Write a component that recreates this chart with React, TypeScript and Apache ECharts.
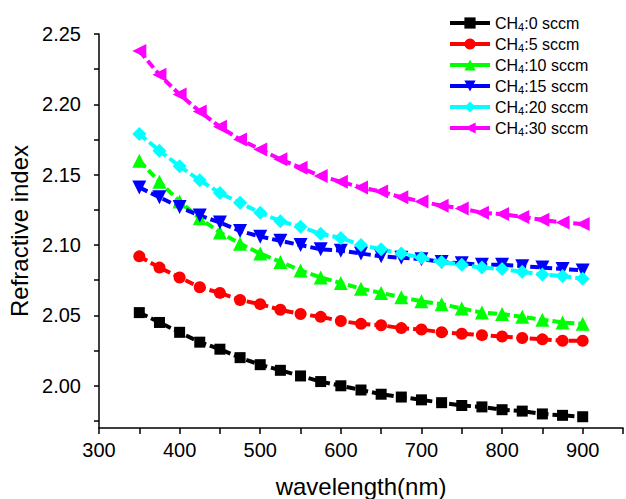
import React, { useEffect, useRef } from "react";
import * as echarts from "echarts";

const wavelengths = [350, 375, 400, 425, 450, 475, 500, 525, 550, 575, 600, 625, 650, 675, 700, 725, 750, 775, 800, 825, 850, 875, 900];

const n0 = [2.052, 2.045, 2.038, 2.031, 2.026, 2.020, 2.015, 2.011, 2.007, 2.003, 2.000, 1.997, 1.994, 1.992, 1.990, 1.988, 1.986, 1.985, 1.983, 1.982, 1.980, 1.979, 1.978];
const n5 = [2.092, 2.084, 2.077, 2.070, 2.066, 2.061, 2.058, 2.054, 2.051, 2.049, 2.046, 2.044, 2.043, 2.041, 2.040, 2.038, 2.037, 2.036, 2.035, 2.034, 2.033, 2.032, 2.032];
const n10 = [2.160, 2.145, 2.131, 2.119, 2.109, 2.101, 2.094, 2.088, 2.082, 2.077, 2.073, 2.069, 2.066, 2.063, 2.060, 2.058, 2.055, 2.052, 2.051, 2.049, 2.047, 2.045, 2.044];
const n15 = [2.141, 2.134, 2.127, 2.121, 2.116, 2.110, 2.106, 2.103, 2.100, 2.097, 2.096, 2.094, 2.092, 2.091, 2.090, 2.088, 2.087, 2.086, 2.086, 2.085, 2.084, 2.083, 2.082];
const n20 = [2.179, 2.167, 2.156, 2.146, 2.137, 2.130, 2.123, 2.117, 2.113, 2.108, 2.105, 2.100, 2.097, 2.094, 2.091, 2.088, 2.086, 2.084, 2.083, 2.081, 2.079, 2.078, 2.076];
const n30 = [2.238, 2.221, 2.207, 2.195, 2.184, 2.175, 2.168, 2.161, 2.155, 2.149, 2.145, 2.141, 2.138, 2.134, 2.131, 2.128, 2.126, 2.123, 2.122, 2.120, 2.118, 2.116, 2.115];

const flows = ["0", "5", "10", "15", "20", "30"];
const seriesValues = [n0, n5, n10, n15, n20, n30];

const xTickValues = [300, 350, 400, 450, 500, 550, 600, 650, 700, 750, 800, 850, 900, 950];
const xLabelValues = [300, 400, 500, 600, 700, 800, 900];
const yTickValues = [1.975, 2.0, 2.025, 2.05, 2.075, 2.1, 2.125, 2.15, 2.175, 2.2, 2.225, 2.25];
const yLabelValues = [2.0, 2.05, 2.1, 2.15, 2.2, 2.25];

const colors = ["#000000", "#ff0000", "#00ff00", "#0000ff", "#00ffff", "#ff00ff"];
const symbols = ["rect", "circle", "triangle", "triangle", "diamond", "triangle"];
const symbolSizes = [11, 12, 14, 14, 14, 14];
const symbolRotates = [0, 0, 0, 180, 0, 90];

const FONT = "Liberation Sans, Arial, sans-serif";

export default function App() {
  const ref = useRef<HTMLDivElement>(null);
  useEffect(() => {
    if (!ref.current) return;
    const chart = echarts.init(ref.current, null, { renderer: "svg" });
    const series = flows.map((f, i) => ({
      name: `CH4:${f} sccm`,
      type: "line",
      data: wavelengths.map((w, j) => [w, seriesValues[i][j]]),
      symbol: symbols[i],
      symbolSize: symbolSizes[i],
      symbolRotate: symbolRotates[i],
      showAllSymbol: true,
      color: colors[i],
      itemStyle: { color: colors[i], borderWidth: 0 },
      lineStyle: { color: colors[i], width: 4, type: [9, 4] },
      emphasis: { disabled: true },
    }));
    chart.setOption({
      animation: false,
      backgroundColor: "#ffffff",
      grid: { left: 99, right: 3, top: 34, bottom: 71, containLabel: false, outerBoundsMode: "none" },
      legend: {
        orient: "vertical",
        left: 443,
        top: 10,
        itemWidth: 40,
        itemHeight: 14,
        itemGap: 4,
        lineStyle: { type: "solid", width: 4 },
        textStyle: {
          fontFamily: FONT,
          fontSize: 16,
          color: "#000",
          rich: {
            a: { fontFamily: FONT, fontSize: 16, color: "#000", lineHeight: 18 },
            s: { fontFamily: FONT, fontSize: 11, color: "#000", lineHeight: 10, verticalAlign: "bottom" },
          },
        },
        formatter: (name: string) => `{a|CH}{s|4}{a|:${name.split(":")[1]}}`,
        data: flows.map((f) => `CH4:${f} sccm`),
      },
      xAxis: {
        type: "value",
        min: 300,
        max: 950,
        name: "wavelength(nm)",
        nameLocation: "middle",
        nameGap: 46,
        nameTextStyle: { fontFamily: FONT, fontSize: 24, color: "#000" },
        axisLine: { show: true, onZero: false, lineStyle: { color: "#000", width: 1.5 } },
        axisTick: { show: true, inside: false, length: 6, customValues: xTickValues, lineStyle: { color: "#000", width: 1.5 } },
        axisLabel: { customValues: xLabelValues, margin: 12, fontFamily: FONT, fontSize: 20, color: "#000" },
        splitLine: { show: false },
      },
      yAxis: {
        type: "value",
        min: 1.97,
        max: 2.25,
        name: "Refractive index",
        nameLocation: "middle",
        nameGap: 67,
        nameTextStyle: { fontFamily: FONT, fontSize: 24, color: "#000" },
        axisLine: { show: true, onZero: false, lineStyle: { color: "#000", width: 1.5 } },
        axisTick: { show: true, inside: false, length: 5, customValues: yTickValues, lineStyle: { color: "#000", width: 1.5 } },
        axisLabel: {
          customValues: yLabelValues,
          margin: 18,
          fontFamily: FONT,
          fontSize: 20,
          color: "#000",
          formatter: (v: number) => v.toFixed(2),
        },
        splitLine: { show: false },
      },
      series,
    });
    return () => chart.dispose();
  }, []);
  return <div ref={ref} style={{ width: 626, height: 499, position: "fixed", left: 0, top: 0 }} />;
}
